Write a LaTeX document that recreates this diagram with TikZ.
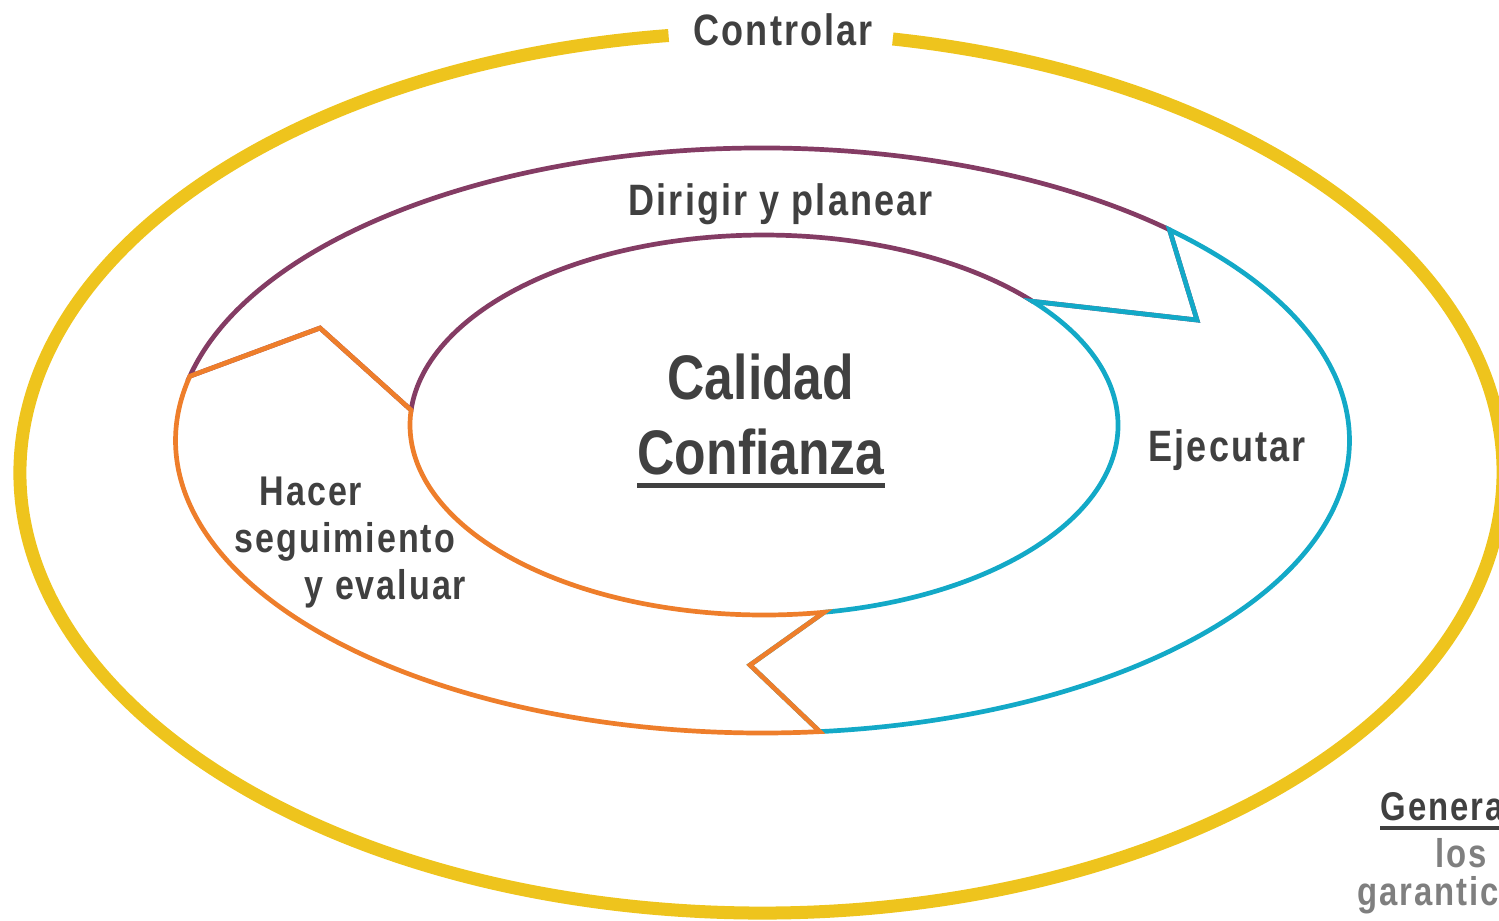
\documentclass[tikz,border=0pt]{standalone}
\usepackage{fontspec}
\usepackage{xcolor}
\usepackage{tikz}
\usetikzlibrary{calc}
\newfontfamily\ringfont[FakeStretch=0.82,LetterSpace=4.8]{Liberation Sans}
\newfontfamily\corefont[FakeStretch=0.82]{Liberation Sans}
\definecolor{ink}{HTML}{404040}
\definecolor{softgray}{HTML}{7F7F7F}
\definecolor{gold}{HTML}{EEC41D}
\definecolor{plum}{HTML}{843C64}
\definecolor{aqua}{HTML}{13A9C7}
\definecolor{tangerine}{HTML}{EE7E2B}
\tikzset{
  goldline/.style={draw=gold, line width=0.13cm},
  ringline/.style={line width=0.047cm, line join=miter},
  lab/.style={text=ink, font=\ringfont\bfseries\fontsize{12.5}{15}\selectfont, inner sep=0pt, anchor=base west},
  sublab/.style={lab, font=\ringfont\bfseries\fontsize{11.8}{14}\selectfont},
  core/.style={text=ink, font=\corefont\bfseries\fontsize{17.9}{20}\selectfont, inner sep=0pt, anchor=base west},
  side/.style={font=\ringfont\bfseries\fontsize{11.4}{14}\selectfont, inner sep=0pt, anchor=base west},
}

\begin{document}
\begin{tikzpicture}[x=0.01cm, y=-0.01cm]
  \useasboundingbox (0,0) rectangle (1499,920);
  \coordinate (O) at (761.5,472.5);
  \coordinate (A) at (762.5,440.5);
  \coordinate (B) at (764,425);
  \path (A) ++(192.7:587 and 292.5) coordinate (outL)
        (A) ++(313.9:587 and 292.5) coordinate (outR)
        (A) ++(84.4:587 and 292.5) coordinate (outB);
  \path (B) ++(184.5:354 and 190) coordinate (inL)
        (B) ++(319.4:354 and 190) coordinate (inR)
        (B) ++(80.2:354 and 190) coordinate (inB);
  \coordinate (tipL) at (320,328);
  \coordinate (tipR) at (1197,320);
  \coordinate (tipB) at (750,665);

  \draw[goldline] (O) ++(280.2:741.5 and 440.5)
    arc[start angle=280.2, end angle=622.8, x radius=741.5, y radius=440.5];

  \draw[ringline, plum] (outL)
    arc[start angle=192.7, end angle=313.9, x radius=587, y radius=292.5]
    -- (tipR) -- (inR)
    arc[start angle=319.4, end angle=184.5, x radius=354, y radius=190]
    -- (tipL) -- cycle;
  \draw[ringline, aqua] (outR)
    arc[start angle=313.9, end angle=444.4, x radius=587, y radius=292.5]
    -- (tipB) -- (inB)
    arc[start angle=440.2, end angle=319.4, x radius=354, y radius=190]
    -- (tipR) -- cycle;
  \draw[ringline, tangerine] (outB)
    arc[start angle=84.4, end angle=192.7, x radius=587, y radius=292.5]
    -- (tipL) -- (inL)
    arc[start angle=184.5, end angle=80.2, x radius=354, y radius=190]
    -- (tipB) -- cycle;

  \node[lab] (ctrl) at (693,45) {Controlar};
  \node[lab] (plan) at (628,215) {Dirigir y planear};
  \node[lab] (exec) at (1148,461) {Ejecutar};
  \node[sublab] (hac1) at (259,505) {Hacer};
  \node[sublab] (hac2) at (234,552) {seguimiento};
  \node[sublab] (hac3) at (304,599) {y evaluar};

  \node[core] (cal) at (667,399) {Calidad};
  \node[core] (conf) at (637,474) {Confianza};
  \draw[ink, line width=0.05cm] ([yshift=-1.1mm]conf.base west) -- ([yshift=-1.1mm]conf.base east);

  \node[side, text=ink] (gen) at (1380,820) {Genera};
  \draw[ink, line width=0.035cm] ([yshift=-0.8mm]gen.base west) -- ([yshift=-0.8mm]gen.base east);
  \node[side, text=softgray] (los) at (1435,867) {los};
  \node[side, text=softgray] (gar) at (1357,905) {garantic};
\end{tikzpicture}
\end{document}
